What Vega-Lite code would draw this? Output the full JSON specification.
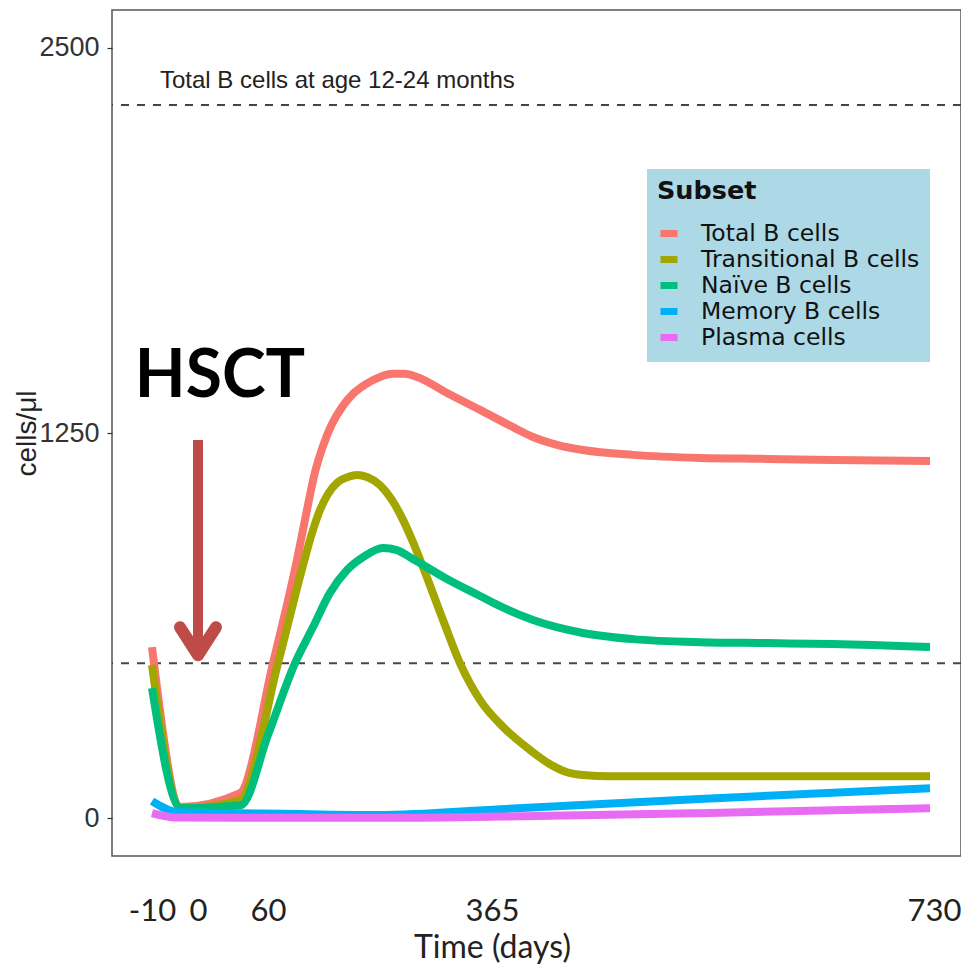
{
  "$schema": "https://vega.github.io/schema/vega-lite/v6.json",
  "autosize": {"type": "none"},
  "padding": {"left": 112, "top": 10, "right": 0, "bottom": 114},
  "width": 849,
  "height": 846,
  "background": "white",
  "config": {
    "view": {"stroke": "#555555", "strokeWidth": 1.5},
    "font": "Liberation Sans"
  },
  "datasets": {
    "series": [
      {"day": -10, "cells": 555, "subset": "Total B cells"},
      {"day": -3.7, "cells": 36, "subset": "Total B cells"},
      {"day": 36, "cells": 81, "subset": "Total B cells"},
      {"day": 66.8, "cells": 503, "subset": "Total B cells"},
      {"day": 99.5, "cells": 838, "subset": "Total B cells"},
      {"day": 111.7, "cells": 984, "subset": "Total B cells"},
      {"day": 124, "cells": 1123, "subset": "Total B cells"},
      {"day": 134.9, "cells": 1208, "subset": "Total B cells"},
      {"day": 147.1, "cells": 1279, "subset": "Total B cells"},
      {"day": 160.8, "cells": 1334, "subset": "Total B cells"},
      {"day": 175.7, "cells": 1377, "subset": "Total B cells"},
      {"day": 193.4, "cells": 1409, "subset": "Total B cells"},
      {"day": 212.5, "cells": 1432, "subset": "Total B cells"},
      {"day": 230.2, "cells": 1442, "subset": "Total B cells"},
      {"day": 246.5, "cells": 1442, "subset": "Total B cells"},
      {"day": 262.9, "cells": 1432, "subset": "Total B cells"},
      {"day": 303.7, "cells": 1380, "subset": "Total B cells"},
      {"day": 348.7, "cells": 1325, "subset": "Total B cells"},
      {"day": 382.5, "cells": 1269, "subset": "Total B cells"},
      {"day": 399.2, "cells": 1237, "subset": "Total B cells"},
      {"day": 420, "cells": 1211, "subset": "Total B cells"},
      {"day": 440.8, "cells": 1195, "subset": "Total B cells"},
      {"day": 482.5, "cells": 1179, "subset": "Total B cells"},
      {"day": 538.3, "cells": 1169, "subset": "Total B cells"},
      {"day": 594.2, "cells": 1166, "subset": "Total B cells"},
      {"day": 649.2, "cells": 1162, "subset": "Total B cells"},
      {"day": 730, "cells": 1159, "subset": "Total B cells"},
      {"day": -10, "cells": 497, "subset": "Transitional B cells"},
      {"day": -3.7, "cells": 32, "subset": "Transitional B cells"},
      {"day": 36, "cells": 58, "subset": "Transitional B cells"},
      {"day": 73.6, "cells": 503, "subset": "Transitional B cells"},
      {"day": 107.7, "cells": 821, "subset": "Transitional B cells"},
      {"day": 119.9, "cells": 925, "subset": "Transitional B cells"},
      {"day": 130.8, "cells": 1000, "subset": "Transitional B cells"},
      {"day": 141.7, "cells": 1052, "subset": "Transitional B cells"},
      {"day": 155.3, "cells": 1091, "subset": "Transitional B cells"},
      {"day": 168.9, "cells": 1107, "subset": "Transitional B cells"},
      {"day": 181.2, "cells": 1114, "subset": "Transitional B cells"},
      {"day": 194.8, "cells": 1107, "subset": "Transitional B cells"},
      {"day": 212.5, "cells": 1081, "subset": "Transitional B cells"},
      {"day": 228.8, "cells": 1033, "subset": "Transitional B cells"},
      {"day": 243.8, "cells": 968, "subset": "Transitional B cells"},
      {"day": 257.4, "cells": 896, "subset": "Transitional B cells"},
      {"day": 271, "cells": 815, "subset": "Transitional B cells"},
      {"day": 298.3, "cells": 643, "subset": "Transitional B cells"},
      {"day": 321.4, "cells": 503, "subset": "Transitional B cells"},
      {"day": 348.7, "cells": 383, "subset": "Transitional B cells"},
      {"day": 374.2, "cells": 296, "subset": "Transitional B cells"},
      {"day": 396.7, "cells": 221, "subset": "Transitional B cells"},
      {"day": 413.3, "cells": 175, "subset": "Transitional B cells"},
      {"day": 427.5, "cells": 149, "subset": "Transitional B cells"},
      {"day": 440.8, "cells": 140, "subset": "Transitional B cells"},
      {"day": 463.3, "cells": 136, "subset": "Transitional B cells"},
      {"day": 730, "cells": 136, "subset": "Transitional B cells"},
      {"day": -10, "cells": 422, "subset": "Naïve B cells"},
      {"day": -3.7, "cells": 32, "subset": "Naïve B cells"},
      {"day": 36.9, "cells": 42, "subset": "Naïve B cells"},
      {"day": 60, "cells": 270, "subset": "Naïve B cells"},
      {"day": 96.8, "cells": 503, "subset": "Naïve B cells"},
      {"day": 121.3, "cells": 620, "subset": "Naïve B cells"},
      {"day": 144.4, "cells": 731, "subset": "Naïve B cells"},
      {"day": 167.6, "cells": 805, "subset": "Naïve B cells"},
      {"day": 189.4, "cells": 847, "subset": "Naïve B cells"},
      {"day": 216.6, "cells": 877, "subset": "Naïve B cells"},
      {"day": 235.6, "cells": 870, "subset": "Naïve B cells"},
      {"day": 253.3, "cells": 847, "subset": "Naïve B cells"},
      {"day": 303.7, "cells": 776, "subset": "Naïve B cells"},
      {"day": 348.7, "cells": 721, "subset": "Naïve B cells"},
      {"day": 371.7, "cells": 688, "subset": "Naïve B cells"},
      {"day": 399.2, "cells": 643, "subset": "Naïve B cells"},
      {"day": 440.8, "cells": 601, "subset": "Naïve B cells"},
      {"day": 482.5, "cells": 581, "subset": "Naïve B cells"},
      {"day": 538.3, "cells": 571, "subset": "Naïve B cells"},
      {"day": 594.2, "cells": 568, "subset": "Naïve B cells"},
      {"day": 649.2, "cells": 565, "subset": "Naïve B cells"},
      {"day": 730, "cells": 555, "subset": "Naïve B cells"},
      {"day": -10, "cells": 55, "subset": "Memory B cells"},
      {"day": -4.3, "cells": 19, "subset": "Memory B cells"},
      {"day": 36, "cells": 16, "subset": "Memory B cells"},
      {"day": 104, "cells": 13, "subset": "Memory B cells"},
      {"day": 212, "cells": 10, "subset": "Memory B cells"},
      {"day": 372, "cells": 29, "subset": "Memory B cells"},
      {"day": 538, "cells": 62, "subset": "Memory B cells"},
      {"day": 730, "cells": 97, "subset": "Memory B cells"},
      {"day": -10, "cells": 16, "subset": "Plasma cells"},
      {"day": -4.8, "cells": 2, "subset": "Plasma cells"},
      {"day": 36, "cells": 1, "subset": "Plasma cells"},
      {"day": 212, "cells": 1, "subset": "Plasma cells"},
      {"day": 372, "cells": 5, "subset": "Plasma cells"},
      {"day": 538, "cells": 16, "subset": "Plasma cells"},
      {"day": 730, "cells": 32, "subset": "Plasma cells"}
    ],
    "refs": [{"cells": 2315}, {"cells": 503}],
    "caption": [{"day": -10, "cells": 2370, "note": "Total B cells at age 12-24 months"}],
    "hsct": [{"day": 0, "cells": 1367, "note": "HSCT"}],
    "shaft": [{"day": 0, "cells": 1227, "cellsEnd": 545}],
    "tip": [{"day": 0, "cells": 529}]
  },
  "layer": [
    {
      "data": {"name": "refs"},
      "mark": {"type": "rule", "stroke": "#444444", "strokeWidth": 2, "strokeDash": [8, 8]},
      "encoding": {
        "y": {"field": "cells", "type": "quantitative", "scale": {"domain": [-123, 2623], "nice": false, "zero": false}}
      }
    },
    {
      "data": {"name": "caption"},
      "mark": {"type": "text", "align": "left", "baseline": "alphabetic", "dx": 8, "font": "Liberation Sans", "fontSize": 24, "fill": "#222222"},
      "encoding": {
        "x": {"field": "day", "type": "quantitative", "scale": {"domain": [-10, 0, 60, 365, 730], "range": [40, 86, 156, 380, 818], "nice": false, "zero": false}},
        "y": {"field": "cells", "type": "quantitative", "scale": {"domain": [-123, 2623], "nice": false, "zero": false}},
        "text": {"field": "note"}
      }
    },
    {
      "data": {"name": "series"},
      "mark": {"type": "line", "strokeWidth": 8, "interpolate": "monotone", "strokeJoin": "round", "strokeCap": "butt"},
      "encoding": {
        "x": {
          "field": "day", "type": "quantitative",
          "scale": {"domain": [-10, 0, 60, 365, 730], "range": [40, 86, 156, 380, 818], "nice": false, "zero": false},
          "axis": {
            "title": "Time (days)", "values": [-10, 0, 60, 365, 730], "labelExpr": "'' + datum.value",
            "grid": false, "ticks": false, "tickSize": 0, "domain": false,
            "labelFont": "Lato", "labelFontSize": 31, "labelColor": "#222222", "labelPadding": 64, "labelBaseline": "alphabetic",
            "labelOverlap": false, "labelFlush": false,
            "labelOffset": {"condition": {"test": "datum.value === 730", "value": 4}, "value": 0},
            "titleFont": "Lato", "titleFontSize": 32, "titleFontWeight": "normal", "titleColor": "#222222",
            "titleX": 380, "titleY": 101, "titleBaseline": "alphabetic", "titleAlign": "center"
          }
        },
        "y": {
          "field": "cells", "type": "quantitative",
          "scale": {"domain": [-123, 2623], "nice": false, "zero": false},
          "axis": {
            "title": "cells/μl", "values": [0, 1250, 2500], "format": "d", "grid": false, "domain": false,
            "tickColor": "#333333", "tickSize": 5, "tickWidth": 1.2,
            "labelFont": "Liberation Sans", "labelFontSize": 27, "labelColor": "#333333", "labelPadding": 8,
            "titleFont": "Liberation Sans", "titleFontSize": 28, "titleFontWeight": "normal", "titleColor": "#222222",
            "titleX": -77, "titleY": 423, "titleBaseline": "alphabetic", "titleAlign": "center", "titleAngle": -90
          }
        },
        "color": {
          "field": "subset", "type": "nominal",
          "scale": {
            "domain": ["Total B cells", "Transitional B cells", "Naïve B cells", "Memory B cells", "Plasma cells"],
            "range": ["#F8766D", "#A3A500", "#00BF7D", "#00B0F6", "#E76BF3"]
          },
          "legend": {
            "title": "Subset", "orient": "none", "legendX": 535, "legendY": 159,
            "fillColor": "#ADD8E6", "padding": 10, "strokeColor": null,
            "titleFont": "DejaVu Sans", "titleFontSize": 25.5, "titleFontWeight": "bold", "titleColor": "#111111", "titlePadding": 17,
            "labelFont": "DejaVu Sans", "labelFontSize": 23.5, "labelColor": "#111111", "labelOffset": 20, "labelLimit": 400,
            "symbolType": "stroke", "symbolSize": 289, "symbolStrokeWidth": 7, "rowPadding": -2
          }
        }
      }
    },
    {
      "data": {"name": "shaft"},
      "mark": {"type": "rule", "stroke": "#BE4B48", "strokeWidth": 10, "strokeCap": "butt"},
      "encoding": {
        "x": {"field": "day", "type": "quantitative", "scale": {"domain": [-10, 0, 60, 365, 730], "range": [40, 86, 156, 380, 818], "nice": false, "zero": false}},
        "y": {"field": "cells", "type": "quantitative", "scale": {"domain": [-123, 2623], "nice": false, "zero": false}},
        "y2": {"field": "cellsEnd"}
      }
    },
    {
      "data": {"name": "tip"},
      "mark": {"type": "point", "shape": "M -1 -1.55 L 0 0 L 1 -1.55", "filled": false, "stroke": "#BE4B48", "strokeWidth": 12, "strokeJoin": "round", "strokeCap": "round", "size": 1296, "opacity": 1},
      "encoding": {
        "x": {"field": "day", "type": "quantitative", "scale": {"domain": [-10, 0, 60, 365, 730], "range": [40, 86, 156, 380, 818], "nice": false, "zero": false}},
        "y": {"field": "cells", "type": "quantitative", "scale": {"domain": [-123, 2623], "nice": false, "zero": false}}
      }
    },
    {
      "data": {"name": "hsct"},
      "mark": {"type": "text", "align": "center", "baseline": "alphabetic", "dx": 22, "font": "Lato", "fontWeight": "bold", "fontSize": 66, "fill": "#000000"},
      "encoding": {
        "x": {"field": "day", "type": "quantitative", "scale": {"domain": [-10, 0, 60, 365, 730], "range": [40, 86, 156, 380, 818], "nice": false, "zero": false}},
        "y": {"field": "cells", "type": "quantitative", "scale": {"domain": [-123, 2623], "nice": false, "zero": false}},
        "text": {"field": "note"}
      }
    }
  ]
}
